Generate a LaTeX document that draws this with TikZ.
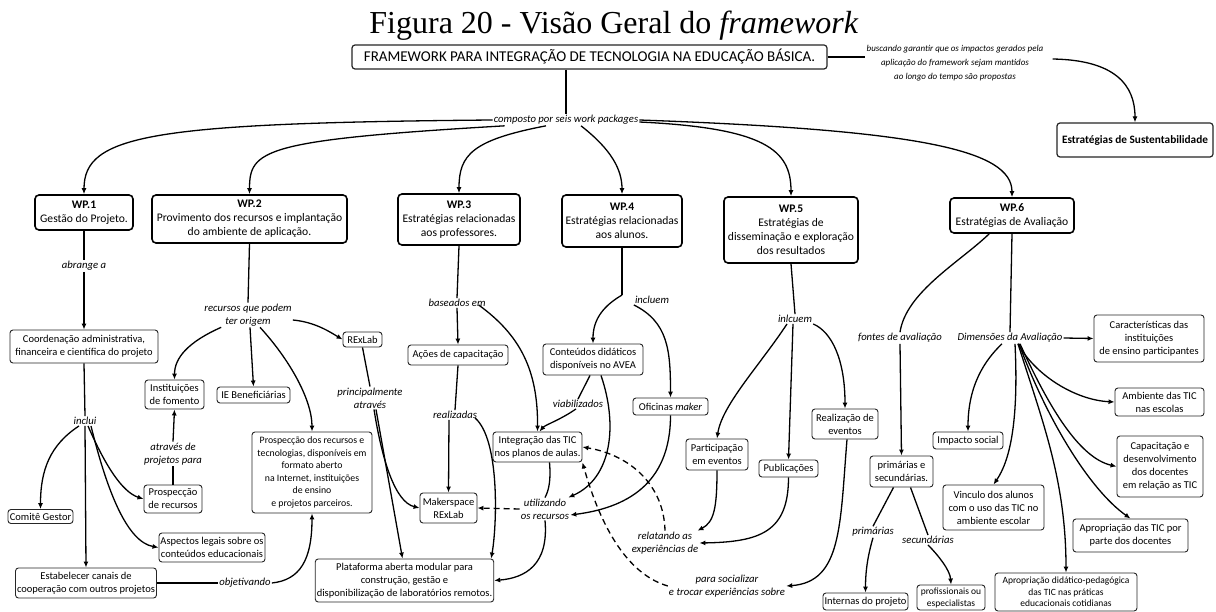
\documentclass[tikz,border=0pt]{standalone}
\usepackage{fontspec}
\setmainfont{Carlito}
\newfontfamily\titlefont{Liberation Serif}
\usetikzlibrary{arrows.meta,calc}
\begin{document}
\begin{tikzpicture}[x=1pt,y=-1pt,
  box/.style={draw=black!85, line width=0.9pt, rounded corners=3pt, align=center, inner sep=1.5pt, font=\fontsize{10.5}{13}\selectfont},
  wpbox/.style={draw=black, line width=1.6pt, rounded corners=4pt, align=center, inner sep=2pt, font=\fontsize{11.6}{14}\selectfont},
  lbl/.style={align=center, inner sep=1pt, font=\fontsize{10.7}{13}\selectfont\itshape},
  conn/.style={line width=1.3pt, black},
  arr/.style={conn, -{Latex[length=6pt,width=5pt]}},
  dsh/.style={arr, dash pattern=on 6pt off 4pt},
]
\fill[white] (0,0) rectangle (1216,612);
\useasboundingbox (0,0) rectangle (1216,612);

% title and top
\node[font=\titlefont\fontsize{32}{36}\selectfont, anchor=base, inner sep=0] (title) at (614,34) {Figura 20 - Visão Geral do \textit{framework}};
\node[box, line width=1.2pt, font=\fontsize{15}{18}\selectfont, minimum width=475, minimum height=24] (fw) at (589.5,57) {FRAMEWORK PARA INTEGRAÇÃO DE TECNOLOGIA NA EDUCAÇÃO BÁSICA.};
\node[lbl, font=\fontsize{9}{14}\selectfont\itshape] (busc) at (955,63) {buscando garantir que os impactos gerados pela\\aplicação do framework sejam mantidos\\ao longo do tempo são propostas};
\node[box, line width=1.2pt, font=\fontsize{11.3}{13}\selectfont\bfseries, minimum width=156, minimum height=34] (sust) at (1135,140) {Estratégias de Sustentabilidade};
\node[lbl] (comp) at (566,120) {composto por seis work packages};

% WP boxes
\node[wpbox, minimum width=98, minimum height=35] (wp1) at (84,212.5) {\textbf{WP.1}\\Gestão do Projeto.};
\node[wpbox, minimum width=195, minimum height=48] (wp2) at (249.5,219) {\textbf{WP.2}\\Provimento dos recursos e implantação\\do ambiente  de aplicação.};
\node[wpbox, minimum width=122, minimum height=51] (wp3) at (459,219.5) {\textbf{WP.3}\\Estratégias relacionadas\\aos professores.};
\node[wpbox, minimum width=120, minimum height=52] (wp4) at (622,221) {\textbf{WP.4}\\Estratégias relacionadas\\aos alunos.};
\node[wpbox, minimum width=134, minimum height=66] (wp5) at (791,230) {\textbf{WP.5}\\Estratégias de\\disseminação e exploração\\dos resultados};
\node[wpbox, minimum width=124, minimum height=35] (wp6) at (1012,215.5) {\textbf{WP.6}\\Estratégias de Avaliação};

% WP1 column
\node[lbl] (obr) at (84,266) {abrange a};
\node[box, minimum width=148, minimum height=33] (coord) at (84,346.5) {Coordenação administrativa,\\financeira e científica do projeto};
\node[lbl] (incl) at (85,421) {inclui};
\node[box, minimum width=65, minimum height=14] (comite) at (40.5,516.5) {Comitê Gestor};
\node[box, minimum width=140, minimum height=30] (estab) at (86,583) {Estabelecer canais de\\cooperação com outros projetos};
\node[box, minimum width=58, minimum height=28] (prosprec) at (173,499) {Prospecção\\de recursos};
\node[box, minimum width=100, minimum height=29] (asp) at (212,547.5) {Aspectos legais sobre os\\conteúdos educacionais};
\node[lbl] (atr) at (173,454) {através de\\projetos para};
\node[box, minimum width=59, minimum height=29] (instit) at (174.5,394.5) {Instituições\\de fomento};
\node[lbl] (obj) at (245,583) {objetivando};

% WP2 column
\node[lbl] (rec) at (248,315) {recursos que podem\\ter origem};
\node[box, minimum width=73, minimum height=16] (ieb) at (253.5,395) {IE Beneficiárias};
\node[box, minimum width=39, minimum height=15] (rex) at (362.5,339.5) {RExLab};
\node[lbl] (princ) at (370,398) {principalmente\\através};
\node[box, font=\fontsize{9.8}{12.5}\selectfont, minimum width=120, minimum height=81] (prospdos) at (312,472.5) {Prospecção dos recursos e\\tecnologias, disponíveis em\\formato aberto\\na Internet, instituições\\de ensino\\e projetos parceiros.};

% WP3 column
\node[lbl] (bas) at (457,303) {baseados em};
\node[box, minimum width=100, minimum height=20] (acoes) at (458,355) {Ações de capacitação};
\node[lbl] (real) at (455,415) {realizadas};
\node[box, minimum width=57, minimum height=30] (maker) at (448.5,508) {Makerspace\\RExLab};
\node[box, minimum width=175, minimum height=43] (plat) at (404.5,580.5) {Plataforma aberta modular para\\construção, gestão e\\disponibilização de laboratórios remotos.};

% WP4 column
\node[lbl] (inc) at (652,300) {incluem};
\node[box, minimum width=100, minimum height=31] (cont) at (593,359.5) {Conteúdos didáticos\\disponíveis no AVEA};
\node[box, minimum width=75, minimum height=17] (ofic) at (670.5,406.5) {Oficinas \textit{maker}};
\node[box, minimum width=89, minimum height=30] (integr) at (537.5,447) {Integração das TIC\\nos planos de aulas.};
\node[lbl] (viab) at (578,404) {viabilizados};
\node[lbl] (util) at (545,509) {utilizando\\os recursos};
\node[lbl] (relat) at (665,543) {relatando as\\experiências de};

% WP5 column
\node[lbl] (inl) at (795,319) {inlcuem};
\node[box, minimum width=62, minimum height=31] (partic) at (717,454.5) {Participação\\em eventos};
\node[box, minimum width=59, minimum height=17] (publ) at (788.5,468.5) {Publicações};
\node[box, minimum width=66, minimum height=30] (realiz) at (845,424) {Realização de\\eventos};
\node[lbl] (soc) at (727,586) {para socializar\\e trocar experiências sobre};

% WP6 column
\node[lbl] (font) at (900,338) {fontes de avaliação};
\node[box, minimum width=63, minimum height=31] (primsec) at (901.5,471.5) {primárias e\\secundárias.};
\node[lbl] (prim) at (873,532) {primárias};
\node[lbl] (sec) at (928,540) {secundárias};
\node[box, minimum width=85, minimum height=17] (intern) at (865.5,601.5) {Internas do projeto};
\node[box, font=\fontsize{9.5}{12}\selectfont, minimum width=68, minimum height=25] (prof) at (951,597.5) {profissionais ou\\especialistas};
\node[lbl] (dim) at (1010,338) {Dimensões da Avaliação};
\node[box, minimum width=110, minimum height=47] (car) at (1149,338.5) {Características das\\instituições\\de ensino participantes};
\node[box, minimum width=89, minimum height=28] (amb) at (1159.5,402) {Ambiente das TIC\\nas escolas};
\node[box, minimum width=70, minimum height=17] (imp) at (968,440.5) {Impacto social};
\node[box, minimum width=86, minimum height=61] (cap) at (1160,466.5) {Capacitação e\\desenvolvimento\\dos docentes\\em relação as TIC};
\node[box, minimum width=101, minimum height=45] (vinc) at (993.5,507.5) {Vinculo dos alunos\\com o uso das TIC no\\ambiente escolar};
\node[box, minimum width=115, minimum height=33] (apt) at (1130.5,535.5) {Apropriação das TIC por\\parte dos docentes};
\node[box, font=\fontsize{9.5}{11.5}\selectfont, minimum width=142, minimum height=38] (apd) at (1066,592) {Apropriação didático-pedagógica\\das TIC nas práticas\\educacionais cotidianas};

% ---------- connectors ----------
\draw[conn] (fw.south -| comp.north) -- (comp.north);
\draw[arr] (comp.west) .. controls (150,123) and (84,135) .. (wp1.north);
\draw[arr] ($(comp.south west)+(12,0)$) .. controls (262,140) and (249.5,150) .. (wp2.north);
\draw[arr] ($(comp.south)+(-20,0)$) .. controls (472,140) and (459,155) .. (wp3.north);
\draw[arr] ($(comp.south)+(15,0)$) .. controls (612,150) and (622,170) .. (wp4.north);
\draw[arr] ($(comp.east)+(0,2)$) .. controls (765,128) and (791,150) .. (wp5.north);
\draw[arr] (comp.east) .. controls (920,130) and (1012,150) .. (wp6.north);
\draw[conn] (fw.east) -- (busc.west |- fw.east);
\draw[arr] ($(busc.east)+(8,-4)$) .. controls (1115,60) and (1135,85) .. (sust.north);

% WP1
\draw[conn] (wp1.south) -- (obr.north);
\draw[arr] (obr.south) -- (coord.north);
\draw[conn] (coord.south) -- (incl.north);
\draw[arr] ($(incl.south)+(-6,0)$) .. controls (50,445) and (40.5,470) .. (comite.north);
\draw[arr] (incl.south) -- (estab.north);
\draw[arr] ($(incl.south)+(3,0)$) .. controls (105,465) and (122,492) .. (prosprec.west);
\draw[arr] ($(incl.south)+(6,0)$) .. controls (108,495) and (128,542) .. (asp.west);
\draw[conn] (prosprec.north) -- (atr.south);
\draw[arr] (atr.north) -- (instit.south);
\draw[conn] (estab.east) -- (obj.west);
\draw[arr] (obj.east) .. controls (300,580) and (312,560) .. (prospdos.south);

% WP2
\draw[conn] (wp2.south) -- (rec.north);
\draw[arr] ($(rec.south west)+(18,0)$) .. controls (188,342) and (174.5,358) .. (instit.north);
\draw[arr] ($(rec.south)+(2,0)$) -- (ieb.north);
\draw[arr] ($(rec.south)+(12,0)$) .. controls (290,360) and (312,400) .. (prospdos.north);
\draw[arr] ($(rec.east)+(0,5)$) .. controls (315,322) and (330,332) .. (rex.west);
\draw[conn] (rex.south) -- (princ.north);
\draw[arr] ($(princ.south)+(4,0)$) .. controls (382,460) and (395,502) .. (maker.west);
\draw[arr] ($(princ.south)+(6,0)$) -- ($(plat.north)+(-2,0)$);

% WP3
\draw[conn] (wp3.south) -- (bas.north);
\draw[arr] (bas.south) -- (acoes.north);
\draw[arr] ($(bas.east)+(-8,2)$) .. controls (520,335) and (538,370) .. (integr.north);
\draw[conn] (acoes.south) -- (real.north);
\draw[arr] ($(real.south)+(-6,0)$) -- (maker.north);
\draw[arr] ($(real.east)+(-3,3)$) .. controls (500,440) and (497,525) .. ($(plat.north east)+(-3,0)$);

% WP4
\coordinate (j4) at (wp4.south |- inc.north);
\draw[conn] (wp4.south) -- (j4);
\draw[arr] (j4) .. controls (605,305) and (593,318) .. (cont.north);
\draw[arr] (inc.south west) .. controls (668,322) and (670.5,350) .. (ofic.north);
\draw[conn] ($(cont.south)+(-3,0)$) -- (viab.north);
\draw[arr] ($(viab.south)+(-2,0)$) .. controls (560,420) and (545,425) .. ($(integr.north)+(2,0)$);
\draw[arr] ($(cont.south)+(8,0)$) .. controls (618,425) and (612,478) .. ($(util.north east)+(-2,0)$);
\draw[conn] ($(integr.south)+(12,0)$) .. controls (551,480) and (549,490) .. (util.north);
\draw[arr] (ofic.south) .. controls (670.5,485) and (625,508) .. ($(util.east)+(0,6)$);
\draw[dsh] (util.west) -- (maker.east);
\draw[arr] (util.south) .. controls (549,565) and (525,578) .. (plat.east);
\draw[dsh] (relat.north) .. controls (664,485) and (630,455) .. (integr.east);
\draw[dsh] (soc.west) .. controls (620,572) and (596,510) .. (integr.south east);

% WP5
\draw[conn] (wp5.south) -- (inl.north);
\draw[arr] ($(inl.south)+(-8,0)$) .. controls (760,365) and (722,405) .. (partic.north);
\draw[arr] ($(inl.south)+(-2,0)$) -- (publ.north);
\draw[arr] (inl.south east) .. controls (832,332) and (845,360) .. (realiz.north);
\draw[arr] (partic.south) .. controls (717,508) and (714,522) .. ($(relat.north east)+(-2,0)$);
\draw[arr] (publ.south) .. controls (788.5,532) and (760,542) .. (relat.east);
\draw[arr] ($(realiz.south)+(2,0)$) .. controls (840,525) and (842,582) .. (soc.east);

% WP6
\draw[conn] ($(wp6.south west)+(40,0)$) .. controls (960,262) and (906,292) .. (font.north);
\draw[arr] (font.south) -- (primsec.north);
\draw[conn] ($(primsec.south)+(-8,0)$) -- (prim.north);
\draw[arr] (prim.south) .. controls (868,555) and (865.5,570) .. (intern.north);
\draw[conn] ($(primsec.south)+(9,0)$) -- (sec.north);
\draw[arr] (sec.south) .. controls (938,555) and (950,570) .. (prof.north);
\draw[conn] (wp6.south) -- (dim.north);
\draw[arr] (dim.east) -- (car.west);
\draw[arr] ($(dim.south)+(8,0)$) .. controls (1035,375) and (1075,400) .. (amb.west);
\draw[arr] ($(dim.south)+(-8,0)$) .. controls (985,360) and (968,385) .. (imp.north);
\draw[arr] ($(dim.south)+(5,0)$) .. controls (1019,425) and (1009,462) .. (vinc.north);
\draw[arr] ($(dim.south)+(8,0)$) .. controls (1042,420) and (1066,480) .. (apd.north);
\draw[arr] ($(dim.south)+(9,0)$) .. controls (1047,420) and (1090,490) .. (apt.north);
\draw[arr] ($(dim.south)+(10,0)$) .. controls (1050,410) and (1080,458) .. (cap.west);
\end{tikzpicture}
\end{document}
